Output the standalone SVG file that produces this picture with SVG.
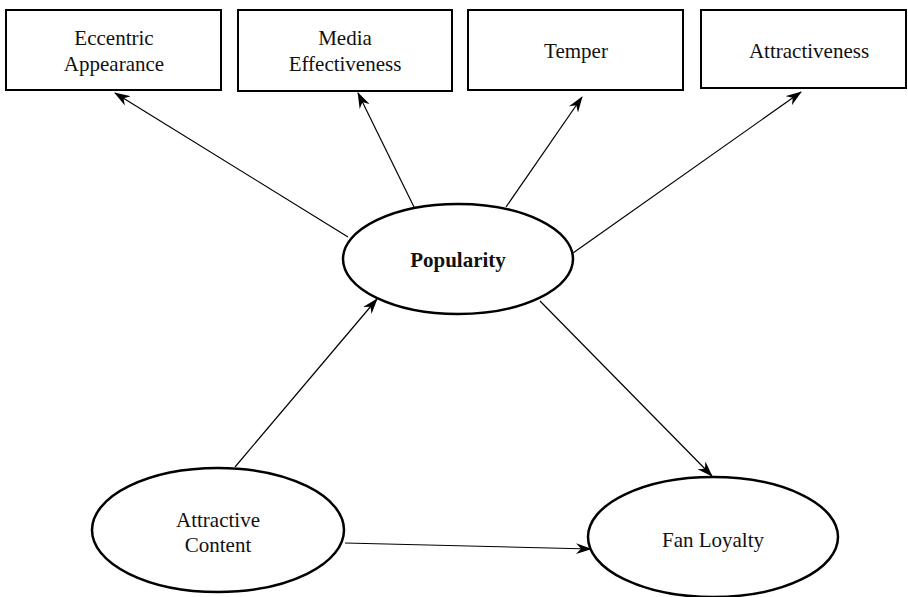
<svg xmlns="http://www.w3.org/2000/svg" width="908" height="597" viewBox="0 0 908 597">
<style>
.box{fill:#fff;stroke:#000;stroke-width:2}
.ell{fill:#fff;stroke:#000;stroke-width:2.5}
.t{font-family:"Liberation Serif","Times New Roman",serif;font-size:21px;fill:#111;text-anchor:middle}
.b{font-weight:bold}
.c{stroke:#000;stroke-width:1.2;fill:none;marker-end:url(#ah)}
</style>
<defs>
<marker id="ah" viewBox="0 0 16 11" refX="15" refY="5.5" markerWidth="16" markerHeight="11" markerUnits="userSpaceOnUse" orient="auto">
<path d="M0,0 L16,5.5 L0,11 L5,5.5 Z" fill="#000"/>
</marker>
</defs>
<g id="connectors">
<line class="c" x1="348" y1="237" x2="115" y2="93"/>
<line class="c" x1="414" y1="207" x2="358" y2="93"/>
<line class="c" x1="506" y1="207" x2="582" y2="97"/>
<line class="c" x1="573" y1="253" x2="801" y2="92"/>
<line class="c" x1="235" y1="467" x2="377" y2="299"/>
<line class="c" x1="540" y1="301" x2="712" y2="476"/>
<line class="c" x1="345" y1="543" x2="591" y2="549"/>
</g>
<g id="eccentric">
<rect class="box" x="6" y="10" width="215" height="80"/>
<text class="t" x="114" y="45">Eccentric</text>
<text class="t" x="114" y="71">Appearance</text>
</g>
<g id="media">
<rect class="box" x="238" y="10" width="214" height="81"/>
<text class="t" x="345" y="45">Media</text>
<text class="t" x="345" y="71">Effectiveness</text>
</g>
<g id="temper">
<rect class="box" x="468" y="10" width="215" height="80"/>
<text class="t" x="576" y="58">Temper</text>
</g>
<g id="attractiveness">
<rect class="box" x="701" y="10" width="205" height="78"/>
<text class="t" x="809" y="58">Attractiveness</text>
</g>
<g id="popularity">
<ellipse class="ell" cx="458" cy="259" rx="115" ry="55"/>
<text class="t b" x="458" y="267">Popularity</text>
</g>
<g id="attractive-content">
<ellipse class="ell" cx="218" cy="530" rx="126" ry="62"/>
<text class="t" x="218" y="527">Attractive</text>
<text class="t" x="218" y="552">Content</text>
</g>
<g id="fan-loyalty">
<ellipse class="ell" cx="713" cy="537" rx="125" ry="60"/>
<text class="t" x="713" y="547">Fan Loyalty</text>
</g>
</svg>
